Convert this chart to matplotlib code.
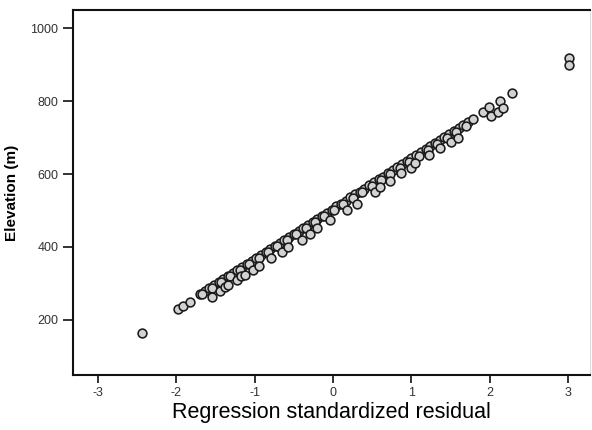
import matplotlib
matplotlib.use("Agg")
import matplotlib.pyplot as plt
import numpy as np

# points sitting on the main diagonal
main_x = [-1.98, -1.91, -1.82, -1.70, -1.64, -1.58, -1.52, -1.46, -1.40, -1.34, -1.28,
          -1.22, -1.16, -1.10, -1.04, -0.98, -0.92, -0.86, -0.80, -0.74, -0.68,
          -0.62, -0.56, -0.50, -0.44, -0.38, -0.32, -0.26, -0.20, -0.14, -0.08,
          -0.02, 0.04, 0.10, 0.16, 0.22, 0.28, 0.34, 0.40, 0.46, 0.52, 0.58,
          0.64, 0.70, 0.76, 0.82, 0.88, 0.94, 1.00, 1.06, 1.12, 1.18, 1.24,
          1.30, 1.36, 1.42, 1.48, 1.54, 1.60, 1.66, 1.72, 1.78]
main_y = [230, 237, 249, 270, 279, 287, 296, 304, 312, 321, 328,
          337, 345, 353, 362, 370, 378, 387, 395, 403, 411,
          420, 428, 436, 445, 453, 461, 469, 478, 486, 494,
          502, 511, 519, 527, 536, 544, 552, 560, 569, 577, 585,
          593, 602, 610, 618, 627, 635, 643, 651, 660, 668, 676,
          684, 693, 701, 709, 718, 726, 734, 742, 751]

# points in between, a little under the diagonal
mid_x = [-1.67, -1.55, -1.43, -1.31, -1.19, -1.07, -0.95, -0.83, -0.71, -0.59,
         -0.47, -0.35, -0.23, -0.11, 0.01, 0.13, 0.25, 0.37, 0.49, 0.61,
         0.73, 0.85, 0.97, 1.09, 1.21, 1.33, 1.45, 1.57, 1.69]
mid_y = [270, 287, 303, 320, 336, 353, 369, 386, 402, 419,
         435, 452, 468, 485, 501, 518, 535, 551, 568, 584,
         601, 617, 634, 650, 667, 683, 700, 716, 733]

# points slightly below the diagonal
low_x = [-1.55, -1.44, -1.38, -1.34, -1.23, -1.17, -1.12, -1.02, -0.94, -0.79,
         -0.65, -0.58, -0.40, -0.30, -0.21, -0.04, 0.18, 0.30, 0.54, 0.60,
         0.72, 0.86, 0.99, 1.05, 1.22, 1.37, 1.50, 1.59]
low_y = [263, 279, 290, 296, 310, 320, 323, 336, 348, 370,
         386, 400, 419, 435, 452, 474, 501, 518, 551, 564,
         580, 603, 616, 630, 653, 671, 688, 699]

# isolated points at both ends
tail_x = [-2.44, 1.91, 1.99, 2.01, 2.10, 2.13, 2.17, 2.28, 3.01, 3.01]
tail_y = [164, 770, 784, 759, 770, 800, 781, 822, 918, 899]

x_ticks = [-3, -2, -1, 0, 1, 2, 3]
y_ticks = [200, 400, 600, 800, 1000]

plt.rcParams["font.family"] = ["Liberation Sans", "DejaVu Sans"]
plt.rcParams["axes.unicode_minus"] = False

fig = plt.figure(figsize=(5.92, 4.30), dpi=100)
ax = fig.add_axes([0.123, 0.128, 0.874, 0.849])

xs = np.array(main_x + mid_x + low_x + tail_x)
ys = np.array(main_y + mid_y + low_y + tail_y)
ax.scatter(xs, ys, s=40, facecolor="#d2d2d2", edgecolor="#1a1a1a",
           linewidths=1.15, zorder=3)

ax.set_xlim(-3.32, 3.28)
ax.set_ylim(49, 1050)
ax.set_xticks(x_ticks)
ax.set_yticks(y_ticks)
ax.tick_params(axis="both", direction="out", length=7, width=1.3,
               color="#222222", labelsize=9, labelcolor="#333333")
ax.tick_params(axis="x", length=6, pad=3)

for side in ("left", "bottom", "top"):
    ax.spines[side].set_linewidth(1.5)
    ax.spines[side].set_color("#111111")
ax.spines["right"].set_color("#dddddd")
ax.spines["right"].set_linewidth(0.8)

ax.set_xlabel("Regression standardized residual", fontsize=15.5, labelpad=2)
ax.set_ylabel("Elevation (m)", fontsize=11, fontweight="bold", labelpad=8)

fig.savefig("out.png", dpi=100)
